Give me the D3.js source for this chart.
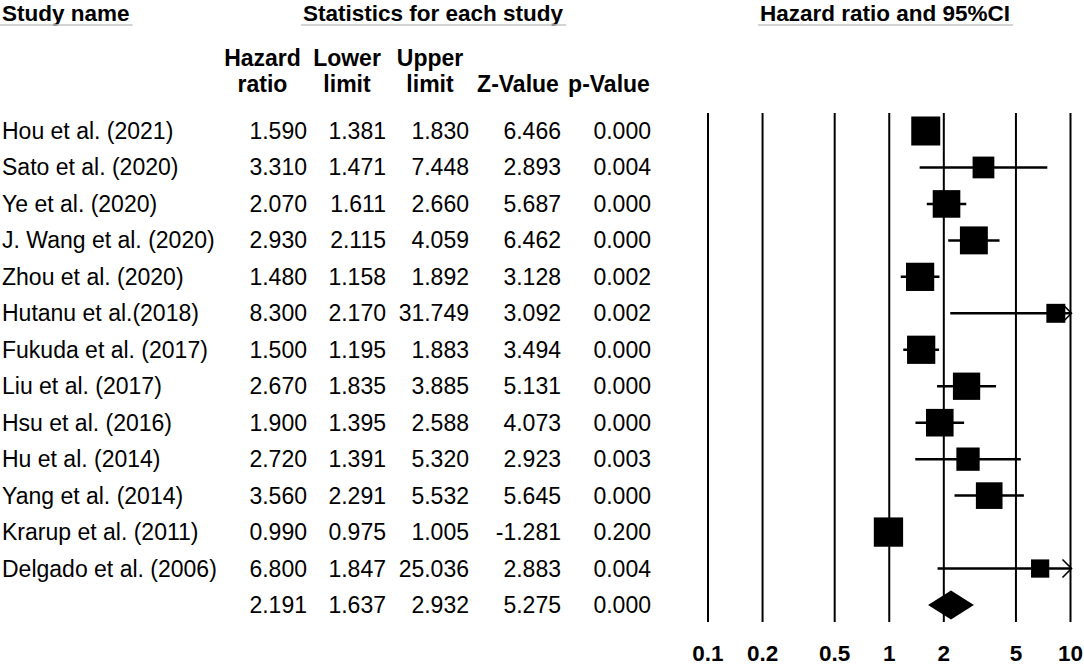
<!DOCTYPE html>
<html>
<head>
<meta charset="utf-8">
<script src="https://cdn.jsdelivr.net/npm/d3@7"></script>
<style>
    body { margin: 0; background: #ffffff; }
    svg { display: block; font-family: "Liberation Sans", Arial, Helvetica, sans-serif; }
</style>
</head>
<body>
<div id="forest_div"></div>
<script>

const study_names = ['Hou et al. (2021)', 'Sato et al. (2020)', 'Ye et al. (2020)', 'J. Wang et al. (2020)',
    'Zhou et al. (2020)', 'Hutanu et al.(2018)', 'Fukuda et al. (2017)', 'Liu et al. (2017)',
    'Hsu et al. (2016)', 'Hu et al. (2014)', 'Yang et al. (2014)', 'Krarup et al. (2011)', 'Delgado et al. (2006)'];
const hazard_ratio = [1.590, 3.310, 2.070, 2.930, 1.480, 8.300, 1.500, 2.670, 1.900, 2.720, 3.560, 0.990, 6.800];
const lower_limit = [1.381, 1.471, 1.611, 2.115, 1.158, 2.170, 1.195, 1.835, 1.395, 1.391, 2.291, 0.975, 1.847];
const upper_limit = [1.830, 7.448, 2.660, 4.059, 1.892, 31.749, 1.883, 3.885, 2.588, 5.320, 5.532, 1.005, 25.036];
const z_value = [6.466, 2.893, 5.687, 6.462, 3.128, 3.092, 3.494, 5.131, 4.073, 2.923, 5.645, -1.281, 2.883];
const p_value = [0.000, 0.004, 0.000, 0.000, 0.002, 0.002, 0.000, 0.000, 0.000, 0.003, 0.000, 0.200, 0.004];
// relative weights (%)
const rel_weight = [9.6, 5.4, 8.7, 8.9, 9.1, 4.1, 9.1, 8.5, 8.7, 6.2, 8.1, 9.8, 3.8];

const summary_values = [2.191, 1.637, 2.932, 5.275, 0.000];
const axis_ticks = [0.1, 0.2, 0.5, 1, 2, 5, 10];

const width = 1084, height = 666;
const font_size = 23;

let svg = d3.select('#forest_div').append('svg')
    .attr('width', width)
    .attr('height', height);

// scales
let x = d3.scaleLog().domain([0.1, 10]).range([708, 1070.5]);
let y = d3.scalePoint().domain(d3.range(study_names.length + 1)).range([131, 605]);
let box_size = d3.scaleSqrt().domain([0, d3.max(rel_weight)]).range([0, 29.3]);
// plain hyphen for negatives, like the original table
let fmt = d3.formatLocale({decimal: '.', thousands: ',', grouping: [3], currency: ['', ''], minus: '-'}).format('.3f');

// group titles with grey underline
const group_titles = [{text: 'Study name', left: 2}, {text: 'Statistics for each study', left: 303},
    {text: 'Hazard ratio and 95%CI', left: 760}];
group_titles.forEach(function (g) {
    let t = svg.append('text')
        .attr('x', g.left)
        .attr('y', 20.5)
        .style('font-size', 22.5 + 'px')
        .style('font-weight', 'bold')
        .style('fill', '#000')
        .text(g.text);
    let w = t.node().getComputedTextLength();
    svg.append('line')
        .attr('x1', g.left - 2).attr('x2', g.left + w + 3)
        .attr('y1', 25).attr('y2', 25)
        .style('stroke', '#c4c4c4')
        .style('stroke-width', 1.6);
});

// column headers
const columns = [
    {head: ['Hazard', 'ratio'], center: 262.5, right: 307, values: hazard_ratio},
    {head: ['Lower', 'limit'], center: 347, right: 386, values: lower_limit},
    {head: ['Upper', 'limit'], center: 430, right: 469, values: upper_limit},
    {head: ['', 'Z-Value'], center: 518, right: 561, values: z_value},
    {head: ['', 'p-Value'], center: 609, right: 651, values: p_value}
];

columns.forEach(function (col, ci) {
    col.head.forEach(function (h, hi) {
        svg.append('text')
            .attr('x', col.center)
            .attr('y', 66 + hi * 26)
            .style('text-anchor', 'middle')
            .style('font-size', font_size + 'px')
            .style('font-weight', 'bold')
            .text(h);
    });

    let vals = col.values.concat([summary_values[ci]]);
    svg.append('g').selectAll('text')
        .data(vals)
        .join('text')
        .attr('x', col.right)
        .attr('y', (d, i) => y(i) + 8)
        .style('text-anchor', 'end')
        .style('font-size', font_size + 'px')
        .text(d => fmt(d));
});

svg.append('g').selectAll('text')
    .data(study_names)
    .join('text')
    .attr('x', 2)
    .attr('y', (d, i) => y(i) + 8)
    .style('font-size', font_size + 'px')
    .text(d => d);

// vertical reference lines and tick labels
let plot = svg.append('g');
plot.selectAll('line.grid')
    .data(axis_ticks)
    .join('line')
    .attr('class', 'grid')
    .attr('x1', d => x(d)).attr('x2', d => x(d))
    .attr('y1', 113).attr('y2', 622)
    .style('stroke', '#000')
    .style('stroke-width', 2);

plot.selectAll('text.tick')
    .data(axis_ticks)
    .join('text')
    .attr('class', 'tick')
    .attr('x', d => x(d))
    .attr('y', 661)
    .style('text-anchor', 'middle')
    .style('font-size', 22.5 + 'px')
    .style('font-weight', 'bold')
    .text(d => d);

// confidence intervals, boxes
let x_max = x.domain()[1];
hazard_ratio.forEach(function (hr, i) {
    let cy = y(i);
    let hi = Math.min(upper_limit[i], x_max);
    plot.append('line')
        .attr('x1', x(lower_limit[i])).attr('x2', x(hi))
        .attr('y1', cy).attr('y2', cy)
        .style('stroke', '#000')
        .style('stroke-width', 2.5);

    if (upper_limit[i] > x_max) {
        let ax = x(x_max);
        plot.append('path')
            .attr('d', 'M' + (ax - 8) + ',' + (cy - 9) + 'L' + (ax + 1) + ',' + cy + 'L' + (ax - 8) + ',' + (cy + 9))
            .style('fill', 'none')
            .style('stroke', '#000')
            .style('stroke-width', 1.6);
    }

    let s = box_size(rel_weight[i]);
    plot.append('rect')
        .attr('x', x(hr) - s / 2)
        .attr('y', cy - s / 2)
        .attr('width', s)
        .attr('height', s)
        .style('fill', '#000');
});

// summary diamond
let sy = y(study_names.length);
plot.append('path')
    .attr('d', 'M' + x(summary_values[1]) + ',' + sy
        + 'L' + x(summary_values[0]) + ',' + (sy - 14.5)
        + 'L' + x(summary_values[2]) + ',' + sy
        + 'L' + x(summary_values[0]) + ',' + (sy + 14.5) + 'Z')
    .style('fill', '#000');

</script>
</body>
</html>
